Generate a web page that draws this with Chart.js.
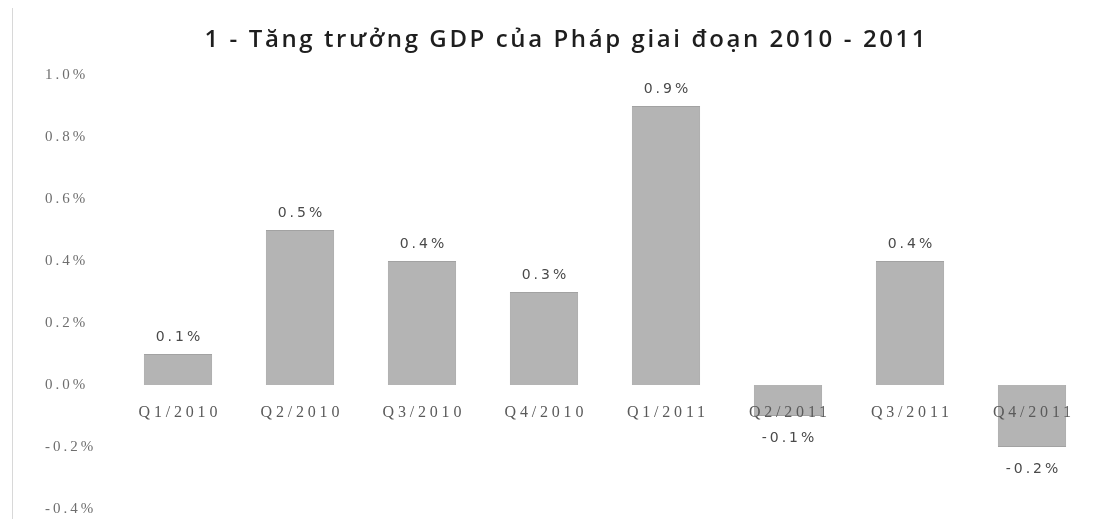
<!DOCTYPE html>
<html>
<head>
<meta charset="utf-8">
<script src="https://cdn.jsdelivr.net/npm/chart.js@4"></script>
<style>
  html, body { margin: 0; padding: 0; background: #fff; }
  #wrap { position: relative; width: 1119px; height: 519px; }
  #edge { position: absolute; left: 12px; top: 8px; width: 1px; height: 511px; background: #d8d8d8; }
</style>
</head>
<body>
<div id="wrap">
  <div id="edge"></div>
  <canvas id="gdpChart" width="1119" height="519"></canvas>
</div>
<script>
// Chart data
const chartTitle = '1 - Tăng trưởng GDP của Pháp giai đoạn 2010 - 2011';
const quarters = ['Q1/2010', 'Q2/2010', 'Q3/2010', 'Q4/2010', 'Q1/2011', 'Q2/2011', 'Q3/2011', 'Q4/2011'];
const growth = [0.1, 0.5, 0.4, 0.3, 0.9, -0.1, 0.4, -0.2];
const yTicks = [1.0, 0.8, 0.6, 0.4, 0.2, 0.0, -0.2, -0.4];

function formatPercent(value) {
  return value.toFixed(1) + '%';
}

// letterSpacing adds trailing space, so shift centred text by half of it
function spacedText(ctx, text, x, y, spacing, align) {
  ctx.letterSpacing = spacing + 'px';
  ctx.textAlign = align;
  const shift = align === 'center' ? spacing / 2 : 0;
  ctx.fillText(text, x + shift, y);
}

// All the text of the chart: title, axis labels, value labels
const chartText = {
  id: 'chartText',
  afterDatasetsDraw(chart) {
    const ctx = chart.ctx;
    const xScale = chart.scales.x;
    const yScale = chart.scales.y;
    const meta = chart.getDatasetMeta(0);
    ctx.save();
    ctx.textBaseline = 'middle';

    // title
    ctx.font = '600 24px "Open Sans"';
    ctx.fillStyle = '#1e1e1e';
    spacedText(ctx, chartTitle, 565, 40, 2.6, 'center');

    // y axis ticks
    ctx.font = '15px "Liberation Serif"';
    ctx.fillStyle = '#6e6e6e';
    yTicks.forEach(v => {
      spacedText(ctx, formatPercent(v), 45, yScale.getPixelForValue(v), 3, 'left');
    });

    // category labels just under the zero line
    ctx.font = '16px "Liberation Serif"';
    ctx.fillStyle = '#5a5a5a';
    const zeroY = yScale.getPixelForValue(0);
    quarters.forEach((q, i) => {
      spacedText(ctx, q, xScale.getPixelForValue(i), zeroY + 28, 3.8, 'center');
    });

    // values above positive bars, below negative ones
    ctx.font = '14px "DejaVu Sans"';
    ctx.fillStyle = '#4a4a4a';
    meta.data.forEach((bar, i) => {
      const v = growth[i];
      const y = v >= 0 ? bar.y - 17 : bar.y + 22;
      spacedText(ctx, formatPercent(v), bar.x, y, 3, 'center');
    });
    ctx.restore();
  }
};

const ctx = document.getElementById('gdpChart');
new Chart(ctx, {
  type: 'bar',
  data: {
    labels: quarters,
    datasets: [{
      label: 'GDP',
      data: growth,
      backgroundColor: '#b4b4b4',
      borderColor: '#a2a2a2',
      borderWidth: 1,
      barPercentage: 0.56,
      categoryPercentage: 1.0
    }]
  },
  options: {
    responsive: false,
    animation: false,
    layout: { padding: { left: 45, right: 26, top: 75, bottom: 10 } },
    plugins: {
      legend: { display: false },
      tooltip: { enabled: false },
      title: { display: false }
    },
    scales: {
      x: { display: false },
      y: {
        min: -0.4,
        max: 1.0,
        grid: { display: false },
        border: { display: false },
        ticks: { display: false },
        afterFit(scale) { scale.width = 72; }
      }
    }
  },
  plugins: [chartText]
});
</script>
</body>
</html>
